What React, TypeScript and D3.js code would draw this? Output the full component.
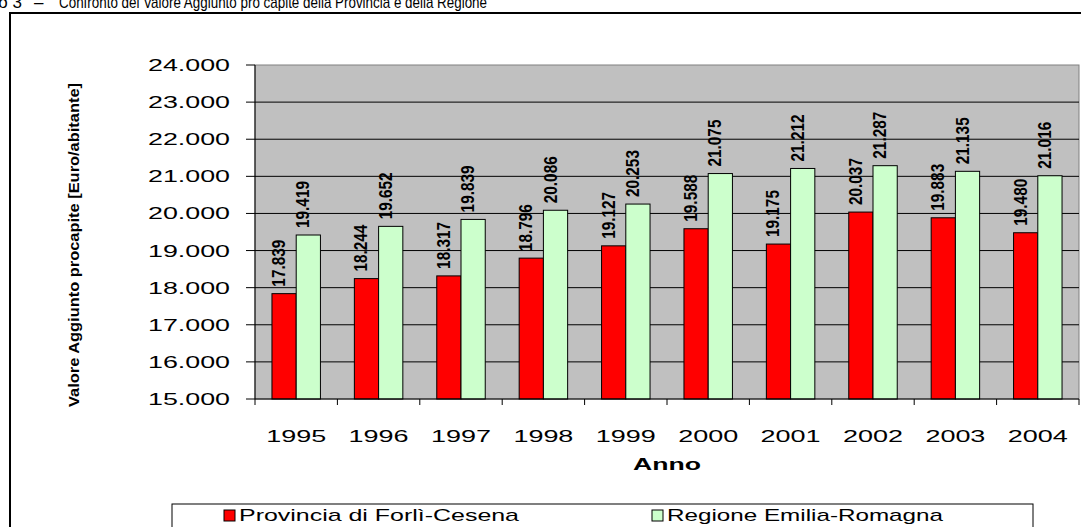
import React from 'react';
import * as d3 from 'd3';

const years = ['1995', '1996', '1997', '1998', '1999', '2000', '2001', '2002', '2003', '2004'];
const provincia = [17839, 18244, 18317, 18796, 19127, 19588, 19175, 20037, 19883, 19480];
const regione = [19419, 19652, 19839, 20086, 20253, 21075, 21212, 21287, 21135, 21016];
const seriesNames = ['Provincia di Forlì-Cesena', 'Regione Emilia-Romagna'];
const seriesColors = ['#FF0000', '#CCFFCC'];
const yTicks = [15000, 16000, 17000, 18000, 19000, 20000, 21000, 22000, 23000, 24000];

const FONT = "Arial, 'Liberation Sans', sans-serif";
const itFormat = d3.formatLocale({ decimal: ',', thousands: '.', grouping: [3], currency: ['', '€'] }).format(',d');

export default function App() {
  const W = 1081, H = 527;
  const plot = { left: 255, right: 1079, top: 65, bottom: 399 };
  const y = d3.scaleLinear().domain([15000, 24000]).range([plot.bottom, plot.top]);
  const x0 = d3.scaleBand<string>().domain(years).range([plot.left, plot.right]).padding(0);
  const x1 = d3.scaleBand<string>().domain(['p', 'r']).range([0, x0.bandwidth()]).paddingInner(0).paddingOuter(0.7);
  const series = [provincia, regione];
  const keys = ['p', 'r'];

  return (
    <svg width={W} height={H} style={{ position: 'absolute', left: 0, top: 0, background: '#fff' }} fontFamily={FONT}>
      <rect x={0} y={0} width={W} height={H} fill="#fff" />
      {/* caption, cut off at the top as in the reference */}
      <text x={22} y={8} fontSize={17} textAnchor="end" fill="#000">Grafico 3</text>
      <text x={34} y={8} fontSize={17} fill="#000">–</text>
      <text x={59} y={8} fontSize={17} fill="#000" textLength={428} lengthAdjust="spacingAndGlyphs">
        Confronto del Valore Aggiunto pro capite della Provincia e della Regione
      </text>
      {/* outer frame */}
      <rect x={10} y={13} width={1200} height={700} fill="none" stroke="#000" strokeWidth={2} />

      {/* plot area */}
      <rect x={plot.left} y={plot.top} width={plot.right - plot.left} height={plot.bottom - plot.top} fill="#C0C0C0" stroke="#808080" strokeWidth={1} />
      {yTicks.slice(1, -1).map(t => (
        <line key={t} x1={plot.left} x2={plot.right} y1={y(t)} y2={y(t)} stroke="#000" strokeWidth={1} />
      ))}

      {/* bars */}
      {years.map((yr, i) => (
        <g key={yr}>
          {series.map((s, k) => {
            const bx = x0(yr)! + x1(keys[k])!;
            const bw = x1.bandwidth();
            return (
              <rect key={k} x={bx} y={y(s[i])} width={bw} height={y(15000) - y(s[i])}
                fill={seriesColors[k]} stroke="#000" strokeWidth={1} />
            );
          })}
        </g>
      ))}

      {/* value labels */}
      {years.map((yr, i) => series.map((s, k) => {
        const cx = x0(yr)! + x1(keys[k])! + x1.bandwidth() / 2;
        return (
          <text key={yr + k} transform={`translate(${cx + 1},${y(s[i]) - 7}) rotate(-90)`}
            fontSize={17.5} fontWeight="bold" fill="#000" textLength={47} lengthAdjust="spacingAndGlyphs">
            {itFormat(s[i])}
          </text>
        );
      }))}

      {/* axes */}
      <line x1={plot.left} x2={plot.left} y1={plot.top} y2={plot.bottom} stroke="#000" strokeWidth={1} />
      <line x1={plot.left} x2={plot.right} y1={plot.bottom} y2={plot.bottom} stroke="#000" strokeWidth={1} />
      {yTicks.map(t => (
        <g key={t}>
          <line x1={plot.left - 9} x2={plot.left} y1={y(t)} y2={y(t)} stroke="#000" strokeWidth={1} />
          <text x={148} y={y(t) + 6} fontSize={16} fill="#000" textLength={82} lengthAdjust="spacingAndGlyphs">
            {itFormat(t)}
          </text>
        </g>
      ))}
      {[...years.map(yr => x0(yr)!), plot.right].map((xv, i) => (
        <line key={i} x1={xv} x2={xv} y1={plot.bottom} y2={plot.bottom + 6} stroke="#000" strokeWidth={1} />
      ))}
      {years.map(yr => {
        const cx = x0(yr)! + x0.bandwidth() / 2;
        return (
          <text key={yr} x={cx - 30} y={442} fontSize={17} fill="#000" textLength={60} lengthAdjust="spacingAndGlyphs">{yr}</text>
        );
      })}
      <text x={633} y={470} fontSize={17} fontWeight="bold" fill="#000" textLength={68} lengthAdjust="spacingAndGlyphs">Anno</text>

      {/* y axis title */}
      <text transform={`translate(79,245) rotate(-90)`} textAnchor="middle" fontSize={15} fontWeight="bold" fill="#000"
        textLength={324} lengthAdjust="spacingAndGlyphs">
        Valore Aggiunto procapite [Euro/abitante]
      </text>

      {/* legend */}
      <rect x={172} y={504} width={861} height={60} fill="#fff" stroke="#000" strokeWidth={1} />
      {seriesNames.map((n, k) => {
        const lx = k === 0 ? 224 : 652;
        return (
          <g key={n}>
            <rect x={lx} y={510} width={11} height={11} fill={seriesColors[k]} stroke="#000" strokeWidth={1} />
            <text x={lx + 15} y={521} fontSize={17} fill="#000" textLength={k === 0 ? 280 : 276} lengthAdjust="spacingAndGlyphs">{n}</text>
          </g>
        );
      })}
    </svg>
  );
}
